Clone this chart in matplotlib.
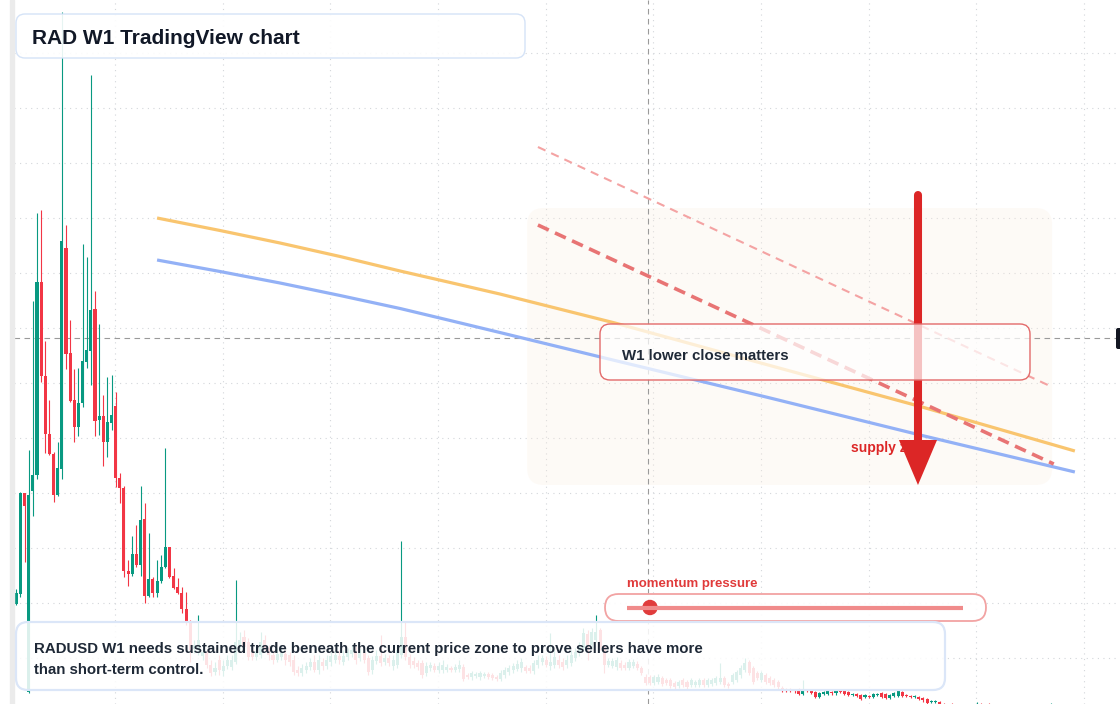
import numpy as np
import matplotlib
matplotlib.use('Agg')
import matplotlib.pyplot as plt
from matplotlib.patches import FancyBboxPatch, Rectangle, Circle

plt.rcParams['font.family'] = ['Liberation Sans', 'DejaVu Sans']

# weekly RADUSD candles, prices in cents
open_ = [
    119, 129, 230, 31, 232, 248, 441, 347, 289, 269,
    228, 254, 475, 370, 323, 296, 320, 361, 372, 414,
    303, 307, 281, 300, 317, 245, 235, 152, 149, 169,
    158, 204, 127, 144, 130, 142, 156, 176, 147, 136,
    130, 114, 101, 74, 73, 67, 70, 58, 51, 63,
    52, 57, 56, 61, 78, 86, 81, 73, 66, 68,
    83, 75, 68, 63, 66, 69, 68, 63, 53, 50,
    53, 56, 61, 53, 61, 57, 61, 63, 67, 61,
    66, 69, 72, 65, 70, 65, 53, 62, 67, 61,
    65, 57, 58, 68, 86, 66, 62, 60, 60, 50,
    55, 57, 53, 53, 53, 55, 53, 54, 56, 48,
    46, 47, 46, 47, 49, 48, 46, 44, 48, 51,
    53, 54, 55, 56, 55, 52, 58, 61, 63, 57,
    58, 63, 61, 58, 60, 65, 70, 75, 89, 78,
    83, 93, 76, 58, 57, 56, 60, 58, 55, 57,
    59, 55, 46, 46, 40, 41, 45, 43, 43, 40,
    37, 43, 41, 38, 38, 38, 43, 38, 39, 40,
    41, 45, 39, 41, 43, 48, 53, 61, 55, 50,
    43, 48, 45, 43, 41, 35, 34, 34, 33, 33,
    29, 33, 32, 31, 26, 29, 29, 31, 30, 32,
    32, 31, 28, 29, 28, 26, 27, 26, 28, 30,
    29, 25, 27, 27, 31, 28, 27, 26, 26, 25,
    24, 21, 21, 21, 19, 18, 16, 15, 13, 11,
    13, 10, 12, 15, 11, 11, 8, 10, 7, 9,
    6, 8, 10, 7, 9, 11, 8, 10, 12, 14,
    13,
]
close = [
    130, 230, 217, 228, 248, 441, 347, 289, 269, 228,
    255, 482, 369, 322, 296, 320, 362, 373, 413, 302,
    307, 281, 301, 308, 245, 235, 152, 149, 169, 158,
    203, 127, 144, 130, 142, 156, 176, 146, 135, 130,
    114, 101, 73, 78, 83, 71, 58, 50, 55, 53,
    57, 63, 63, 81, 83, 76, 66, 66, 72, 81,
    75, 68, 63, 69, 70, 63, 61, 51, 50, 55,
    57, 61, 53, 63, 57, 63, 67, 68, 63, 67,
    71, 73, 63, 71, 63, 51, 63, 67, 60, 65,
    60, 63, 73, 86, 66, 58, 58, 56, 48, 57,
    58, 53, 57, 58, 56, 53, 56, 58, 44, 46,
    50, 49, 50, 49, 46, 45, 44, 50, 53, 55,
    57, 59, 61, 52, 52, 60, 63, 65, 58, 61,
    66, 58, 56, 63, 68, 71, 76, 90, 78, 91,
    91, 76, 58, 62, 62, 63, 55, 55, 61, 61,
    55, 50, 40, 40, 46, 46, 39, 40, 37, 36,
    41, 38, 36, 43, 41, 43, 38, 43, 43, 45,
    45, 38, 37, 48, 51, 55, 60, 50, 41, 45,
    50, 41, 40, 38, 36, 33, 33, 32, 32, 29,
    33, 32, 30, 26, 30, 31, 32, 30, 32, 31,
    29, 28, 29, 27, 24, 28, 26, 29, 29, 26,
    25, 28, 30, 32, 27, 27, 26, 27, 24, 23,
    20, 22, 22, 18, 18, 15, 15, 13, 11, 13,
    10, 13, 15, 11, 9, 8, 10, 7, 9, 6,
    8, 10, 7, 9, 11, 8, 10, 12, 14, 12,
    16,
]
high = [
    134, 231, 230, 273, 422, 510, 513, 382, 323, 271,
    281, 711, 498, 403, 354, 355, 479, 466, 648, 432,
    399, 328, 346, 348, 331, 250, 237, 163, 187, 198,
    237, 220, 190, 146, 163, 168, 275, 176, 155, 145,
    136, 131, 103, 83, 108, 75, 73, 63, 61, 68,
    63, 68, 68, 143, 91, 93, 85, 78, 78, 91,
    88, 78, 73, 75, 78, 73, 71, 68, 57, 59,
    61, 65, 68, 68, 65, 68, 71, 73, 73, 73,
    75, 78, 77, 75, 73, 68, 67, 73, 88, 69,
    68, 68, 78, 182, 101, 69, 66, 63, 63, 61,
    61, 60, 61, 63, 59, 57, 59, 63, 59, 50,
    52, 51, 52, 51, 51, 50, 48, 53, 56, 58,
    60, 63, 65, 58, 58, 63, 68, 68, 67, 90,
    73, 68, 65, 68, 73, 75, 81, 95, 93, 95,
    108, 95, 78, 65, 65, 66, 63, 61, 64, 64,
    62, 57, 49, 48, 48, 49, 47, 45, 45, 42,
    43, 45, 43, 45, 43, 45, 45, 45, 45, 47,
    60, 47, 41, 50, 53, 58, 65, 63, 57, 52,
    52, 50, 47, 45, 43, 37, 35, 35, 34, 35,
    43, 34, 33, 32, 31, 32, 33, 32, 33, 33,
    33, 32, 30, 30, 29, 29, 28, 30, 30, 31,
    30, 29, 31, 33, 32, 29, 28, 28, 27, 26,
    25, 23, 23, 22, 20, 19, 20, 18, 16, 17,
    15, 18, 21, 20, 15, 20, 13, 12, 12, 11,
    11, 13, 12, 13, 15, 14, 13, 16, 17, 17,
    20,
]
low = [
    118, 126, 161, 30, 207, 244, 341, 270, 268, 221,
    227, 244, 354, 321, 281, 287, 316, 355, 338, 287,
    288, 257, 266, 293, 236, 220, 146, 137, 147, 156,
    147, 120, 126, 126, 126, 140, 155, 145, 134, 129,
    110, 98, 61, 70, 68, 63, 55, 47, 48, 48,
    47, 54, 53, 59, 73, 73, 63, 63, 63, 65,
    71, 63, 59, 61, 63, 58, 57, 48, 47, 47,
    50, 53, 51, 49, 53, 54, 57, 60, 59, 58,
    63, 66, 59, 62, 60, 48, 49, 59, 57, 58,
    57, 53, 55, 65, 63, 55, 55, 53, 45, 47,
    52, 51, 50, 50, 51, 51, 51, 51, 42, 44,
    43, 45, 43, 45, 44, 43, 42, 42, 45, 48,
    50, 52, 51, 50, 50, 49, 55, 58, 56, 53,
    55, 55, 53, 55, 57, 62, 67, 73, 63, 75,
    81, 73, 50, 56, 55, 53, 53, 53, 53, 55,
    53, 48, 38, 38, 38, 39, 37, 38, 35, 34,
    35, 36, 34, 36, 36, 36, 36, 36, 37, 38,
    39, 36, 35, 39, 41, 45, 51, 48, 39, 43,
    41, 39, 38, 36, 34, 31, 31, 31, 30, 28,
    28, 31, 29, 25, 25, 28, 28, 28, 28, 30,
    28, 27, 27, 26, 23, 25, 25, 25, 27, 25,
    24, 24, 26, 26, 26, 26, 25, 25, 23, 21,
    16, 20, 20, 17, 16, 13, 13, 11, 9, 9,
    8, 8, 10, 9, 7, 7, 6, 5, 5, 4,
    4, 6, 5, 5, 7, 6, 6, 8, 10, 10,
    11,
]

# moving averages, sampled at bar index
ema_idx = [34.0, 49.2, 63.7, 78.2, 92.7, 104.8, 116.8, 144.6, 181.6, 218.8, 255.7]
ema_fast = [505, 492.5, 480, 466.5, 452, 440.5, 429, 400, 358, 316, 272]
ema_slow = [463, 451.5, 440, 427.5, 414.5, 402.5, 390.5, 362.5, 325.5, 287.5, 251]

# descending resistance lines
trend_idx = [126.0, 250.6]
trend_inner = [498, 259]
trend_outer_idx = [126.0, 250.2]
trend_outer = [576, 336]

zone_idx = [123.4, 250.2]
zone_price = [238, 515]

arrow_idx = 217.8
arrow_from = 528
arrow_to = 238

cross_idx = 152.6
cross_price = 385

title = 'RAD W1 TradingView chart'
note_lines = ['RADUSD W1 needs sustained trade beneath the current price zone to prove sellers have more',
              'than short-term control.']
callout = 'W1 lower close matters'
zone_label = 'supply zone'
meter_label = 'momentum pressure'

GREEN = '#089981'
RED = '#f23645'
W, H = 1120, 704

fig = plt.figure(figsize=(W / 100, H / 100), dpi=100)
ax = fig.add_axes([14 / W, 0, (W - 14) / W, 1])
ax.set_xlim(-0.56, 266.6)
ax.set_ylim(19, 723)
for s in ax.spines.values():
    s.set_visible(False)
ax.set_xticks(np.arange(23.85, 267, 26))
ax.set_yticks(np.arange(65, 723, 55))
ax.tick_params(length=0, labelbottom=False, labelleft=False)
ax.grid(True, color='#d3d6da', lw=0.8, linestyle=(0, (1, 4)))
ax.set_axisbelow(True)

fig.patches.append(Rectangle((10 / W, 0), 4 / W, 1, transform=fig.transFigure,
                             color='#ebebeb', zorder=0))

# supply zone shading
ax.add_patch(FancyBboxPatch((zone_idx[0], zone_price[0]), zone_idx[1] - zone_idx[0],
                            zone_price[1] - zone_price[0],
                            boxstyle='round,pad=0,rounding_size=4',
                            mutation_aspect=4.14, fc='#fbeee0', ec='none',
                            alpha=0.28, zorder=1))

# crosshair
ax.axhline(cross_price, color='#9a9a9a', lw=0.8, dashes=(5, 4), zorder=2)
ax.axvline(cross_idx, color='#9a9a9a', lw=0.8, dashes=(5, 4), zorder=2)

# candles
o = np.array(open_)
c = np.array(close)
hi = np.array(high)
lo = np.array(low)
idx = np.arange(len(o))
cols = np.where(c >= o, GREEN, RED)
ax.vlines(idx, lo, hi, colors=cols, lw=0.8, zorder=3)
ax.bar(idx, np.maximum(np.abs(c - o), 1.2), bottom=np.minimum(o, c), width=0.74,
       color=cols, lw=0, zorder=3)

# averages and trend lines
ax.plot(ema_idx, ema_fast, color='#f9c56f', lw=2.3, zorder=4, solid_capstyle='butt')
ax.plot(ema_idx, ema_slow, color='#93b1f6', lw=2.3, zorder=4, solid_capstyle='butt')
ax.plot(trend_outer_idx, trend_outer, color='#f4a3a3', lw=1.5, dashes=(4, 3), zorder=4)
ax.plot(trend_idx, trend_inner, color='#e87474', lw=2.6, dashes=(3.3, 1.9), zorder=4)

ax.text(201.6, 271, zone_label, color='#dc2626', fontsize=10, fontweight='bold',
        va='baseline', zorder=5)

# arrow
head_len = 45
head_half = 4.6
ax.plot([arrow_idx, arrow_idx], [arrow_from, arrow_to + head_len], color='#dc2626',
        lw=5.8, solid_capstyle='round', zorder=6)
ax.fill([arrow_idx - head_half, arrow_idx + head_half, arrow_idx],
        [arrow_to + head_len, arrow_to + head_len, arrow_to], color='#dc2626', lw=0, zorder=6)

# overlay in pixel coordinates for the panels
ov = fig.add_axes([0, 0, 1, 1], zorder=5)
ov.set_xlim(0, W)
ov.set_ylim(H, 0)
ov.axis('off')


def panel(x0, y0, x1, y1, r, edge, alpha=0.86, lw=1.0):
    p = FancyBboxPatch((x0, y0), x1 - x0, y1 - y0,
                       boxstyle=f'round,pad=0,rounding_size={r}',
                       fc=(1, 1, 1, alpha), ec=edge, lw=lw)
    ov.add_patch(p)


panel(16, 14, 525, 58, 9, '#d5e3f7', alpha=0.9)
ov.text(32, 43.5, title, fontsize=15, fontweight='bold', color='#111827', va='baseline')

panel(600, 324, 1030, 380, 10, '#e36a6a', alpha=0.72)
ov.text(622, 359.5, callout, fontsize=10.8, fontweight='bold', color='#1f2937', va='baseline')

panel(605, 594, 986, 621, 13.5, '#f2a3a3', alpha=0.9, lw=1.3)
ov.plot([627, 963], [607.5, 607.5], color='#f08b8b', lw=3, solid_capstyle='butt')
ov.add_patch(Circle((650, 607.5), 7, color='#e03c3c'))
ov.text(627, 587.5, meter_label, fontsize=9.5, fontweight='bold', color='#e03a3a', va='baseline')

panel(16, 622, 945, 690, 12, '#dbe6f8', alpha=0.86, lw=1.6)
ov.text(34, 653.5, note_lines[0], fontsize=10.8, fontweight='bold', color='#1f2937', va='baseline')
ov.text(34, 674, note_lines[1], fontsize=10.8, fontweight='bold', color='#1f2937', va='baseline')

# cut-off price tag at right edge
ov.add_patch(FancyBboxPatch((1116, 328), 12, 21, boxstyle='round,pad=0,rounding_size=2',
                            fc='#131722', ec='none'))

fig.savefig('out.png', dpi=100)
